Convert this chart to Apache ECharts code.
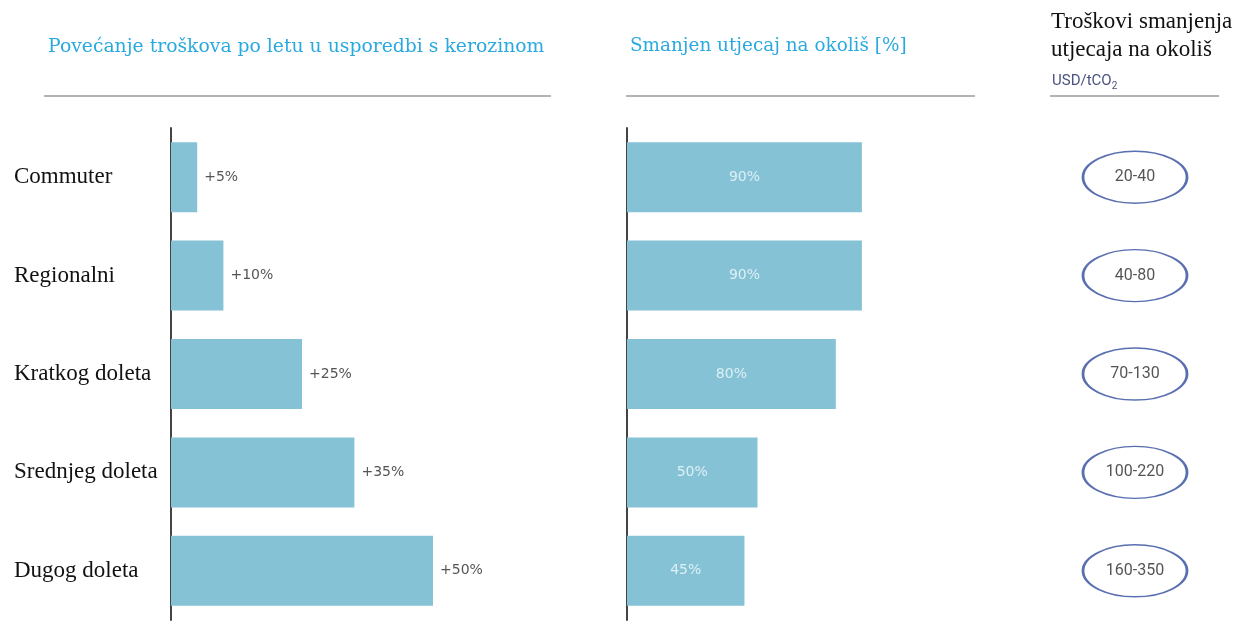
<!DOCTYPE html>
<html>
<head>
<meta charset="utf-8">
<script src="https://cdn.jsdelivr.net/npm/echarts@6/dist/echarts.min.js"></script>
<style>
  html, body { margin: 0; padding: 0; background: #fff; }
  #graph { width: 1237px; height: 644px; }
</style>
</head>
<body>
<div id="graph"></div>
<script>
var categories = ['Commuter', 'Regionalni', 'Kratkog doleta', 'Srednjeg doleta', 'Dugog doleta'];
// povećanje troškova po letu (%)
var costIncrease = [5, 10, 25, 35, 50];
// smanjen utjecaj na okoliš (%)
var impactReduction = [90, 90, 80, 50, 45];
// troškovi smanjenja, USD/tCO2
var abatementCost = ['20-40', '40-80', '70-130', '100-220', '160-350'];

var barColor = '#86c2d6';
var serif = '"Liberation Serif", "Times New Roman", serif';
var titleSerif = '"DejaVu Serif", serif';
var sans = '"DejaVu Sans", sans-serif';

var myChart = echarts.init(document.getElementById('graph'));

var option = {
    animation: false,
    title: [
        {
            text: 'Povećanje troškova po letu u usporedbi s kerozinom',
            left: 43, top: 33,
            textStyle: { fontFamily: titleSerif, fontWeight: 'normal', fontSize: 18.8, color: '#2aa9e0' }
        },
        {
            text: 'Smanjen utjecaj na okoliš [%]',
            left: 625, top: 32,
            textStyle: { fontFamily: titleSerif, fontWeight: 'normal', fontSize: 18.4, color: '#2aa9e0' }
        },
        {
            text: 'Troškovi smanjenja\nutjecaja na okoliš',
            left: 1046, top: 3,
            textStyle: { fontFamily: serif, fontWeight: 'normal', fontSize: 23, lineHeight: 28, color: '#111' }
        },
        {
            text: '{a|USD/tCO}{b|2}',
            left: 1047, top: 67,
            textStyle: {
                rich: {
                    a: { fontFamily: 'Roboto', fontWeight: 'normal', fontSize: 15, color: '#4b5280' },
                    b: { fontFamily: 'Roboto', fontWeight: 'normal', fontSize: 10, color: '#4b5280', padding: [9, 0, 0, 0] }
                }
            }
        }
    ],
    graphic: [
        { type: 'line', shape: { x1: 44, y1: 96, x2: 551, y2: 96 }, style: { stroke: '#b3b3b3', lineWidth: 2 } },
        { type: 'line', shape: { x1: 626, y1: 96, x2: 975, y2: 96 }, style: { stroke: '#b3b3b3', lineWidth: 2 } },
        { type: 'line', shape: { x1: 1050, y1: 96, x2: 1219, y2: 96 }, style: { stroke: '#b3b3b3', lineWidth: 2 } }
    ],
    grid: [
        { left: 171, top: 128, width: 262, height: 492 },
        { left: 627, top: 128, width: 261, height: 492 },
        { left: 1085, top: 128, width: 100, height: 492 }
    ],
    xAxis: [
        { gridIndex: 0, type: 'value', min: 0, max: 50, show: false },
        { gridIndex: 1, type: 'value', min: 0, max: 100, show: false },
        { gridIndex: 2, type: 'category', data: ['USD/tCO2'], show: false }
    ],
    yAxis: [
        {
            gridIndex: 0, type: 'category', inverse: true, data: categories,
            axisLine: { show: true, lineStyle: { color: '#444', width: 2 } },
            axisTick: { show: false },
            axisLabel: {
                align: 'left', margin: 157, padding: [3, 0, 0, 0],
                fontFamily: serif, fontSize: 23, color: '#111'
            }
        },
        {
            gridIndex: 1, type: 'category', inverse: true, data: categories,
            axisLine: { show: true, lineStyle: { color: '#444', width: 2 } },
            axisTick: { show: false },
            axisLabel: { show: false }
        },
        {
            gridIndex: 2, type: 'category', inverse: true, data: categories, show: false
        }
    ],
    series: [
        {
            name: 'Povećanje troškova',
            type: 'bar',
            xAxisIndex: 0, yAxisIndex: 0,
            barWidth: 70,
            itemStyle: { color: barColor },
            label: {
                show: true, position: 'right', distance: 7,
                formatter: '+{c}%',
                fontFamily: sans, fontSize: 14, color: '#555'
            },
            data: costIncrease
        },
        {
            name: 'Smanjen utjecaj',
            type: 'bar',
            xAxisIndex: 1, yAxisIndex: 1,
            barWidth: 70,
            itemStyle: { color: barColor },
            label: {
                show: true, position: 'inside',
                formatter: '{c}%',
                fontFamily: sans, fontSize: 14, color: '#dcf0f5'
            },
            data: impactReduction
        },
        {
            name: 'Troškovi smanjenja',
            type: 'scatter',
            xAxisIndex: 2, yAxisIndex: 2,
            symbol: 'circle',
            symbolSize: [104, 52],
            itemStyle: { color: '#fff', borderColor: '#2f4b9b', borderWidth: 2 },
            label: {
                show: true, position: 'inside',
                formatter: function (p) { return abatementCost[p.dataIndex]; },
                fontFamily: 'Roboto', fontSize: 16, color: '#2b2b2b'
            },
            data: categories.map(function (c) { return ['USD/tCO2', c]; })
        }
    ]
};

myChart.setOption(option);
</script>
</body>
</html>
